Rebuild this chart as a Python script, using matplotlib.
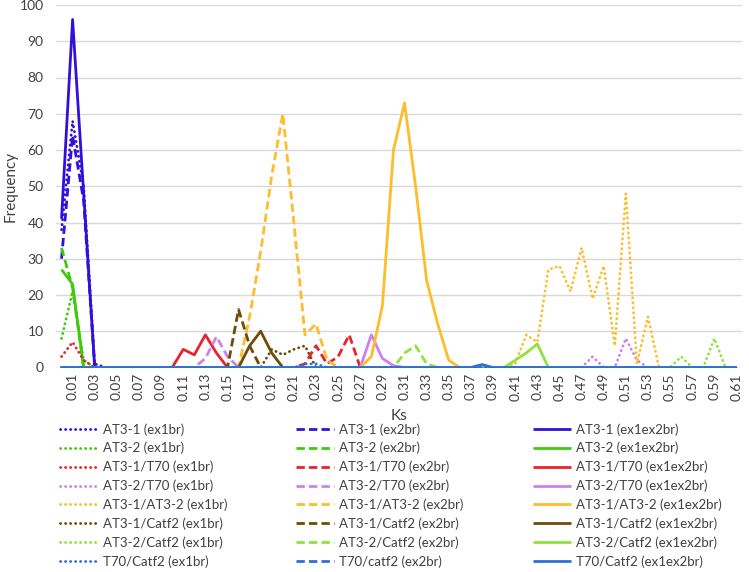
import numpy as np
import matplotlib
matplotlib.use("Agg")
import matplotlib.pyplot as plt
from matplotlib.lines import Line2D

plt.rcParams['font.family'] = ['Lato', 'DejaVu Sans']

# Ks categories 0.00 .. 0.61 (labels shown on every second one)
ks = [0.00, 0.01, 0.02, 0.03, 0.04, 0.05, 0.06, 0.07, 0.08, 0.09,
      0.10, 0.11, 0.12, 0.13, 0.14, 0.15, 0.16, 0.17, 0.18, 0.19,
      0.20, 0.21, 0.22, 0.23, 0.24, 0.25, 0.26, 0.27, 0.28, 0.29,
      0.30, 0.31, 0.32, 0.33, 0.34, 0.35, 0.36, 0.37, 0.38, 0.39,
      0.40, 0.41, 0.42, 0.43, 0.44, 0.45, 0.46, 0.47, 0.48, 0.49,
      0.50, 0.51, 0.52, 0.53, 0.54, 0.55, 0.56, 0.57, 0.58, 0.59,
      0.60, 0.61]

# each series: (first Ks with a reading, readings from there on); zero elsewhere
at31_ex1 = (0.00, [38, 68, 50, 1])
at31_ex2 = (0.00, [30, 64, 46, 0])
at31_ex12 = (0.00, [41, 96, 48, 0])

at32_ex1 = (0.00, [8, 21, 2])
at32_ex2 = (0.00, [33, 22, 0])
at32_ex12 = (0.00, [27, 23, 0])

at31_t70_ex1 = (0.00, [3, 7, 2])
at31_t70_ex2 = (0.21, [0, 1, 6, 1, 3, 9, 0])
at31_t70_ex12 = (0.10, [0, 5, 3.5, 9, 4, 0])

at32_t70_ex1 = (0.47, [0, 3, 0, 0, 8, 2, 0])
at32_t70_ex2 = (0.12, [0, 2.5, 8.5, 3, 0])
at32_t70_ex12 = (0.27, [0, 9, 2.5, 0.5, 0])

at31_at32_ex1 = (0.40, [0, 1, 9, 7, 27, 28, 21, 33, 19, 28, 6, 48, 1, 14, 0])
at31_at32_ex2 = (0.16, [0, 14, 32, 53, 70, 40, 9, 12, 2, 0])
at31_at32_ex12 = (0.27, [0, 3, 17, 60, 73, 50, 24, 12, 2, 0])

at31_catf2_ex1 = (0.18, [0, 5, 3.5, 5, 6, 0])
at31_catf2_ex2 = (0.15, [0, 16, 6, 0])
at31_catf2_ex12 = (0.16, [0, 6, 10, 4, 0])

at32_catf2_ex1 = (0.55, [0, 3, 0, 0, 8, 0])
at32_catf2_ex2 = (0.30, [0, 4, 6, 1, 0])
at32_catf2_ex12 = (0.40, [0, 2, 4, 6.5, 0])

t70_catf2_ex1 = (0.21, [0, 1, 1, 0])
t70_catf2_ex2 = (0.00, [0])
t70_catf2_ex12 = (0.37, [0, 0.8, 0])

groups = ['AT3-1', 'AT3-2', 'AT3-1/T70', 'AT3-2/T70', 'AT3-1/AT3-2',
          'AT3-1/Catf2', 'AT3-2/Catf2', 'T70/Catf2']
colors = ['#3210dc', '#3dcc0c', '#e8232b', '#d07ff0', '#fdbd2c',
          '#6e4c08', '#8ee43c', '#2f6fd6']
series = [
    (at31_ex1, at31_ex2, at31_ex12),
    (at32_ex1, at32_ex2, at32_ex12),
    (at31_t70_ex1, at31_t70_ex2, at31_t70_ex12),
    (at32_t70_ex1, at32_t70_ex2, at32_t70_ex12),
    (at31_at32_ex1, at31_at32_ex2, at31_at32_ex12),
    (at31_catf2_ex1, at31_catf2_ex2, at31_catf2_ex12),
    (at32_catf2_ex1, at32_catf2_ex2, at32_catf2_ex12),
    (t70_catf2_ex1, t70_catf2_ex2, t70_catf2_ex12),
]
labels = [
    ['AT3-1 (ex1br)', 'AT3-1 (ex2br)', 'AT3-1 (ex1ex2br)'],
    ['AT3-2 (ex1br)', 'AT3-2 (ex2br)', 'AT3-2 (ex1ex2br)'],
    ['AT3-1/T70 (ex1br)', 'AT3-1/T70 (ex2br)', 'AT3-1/T70 (ex1ex2br)'],
    ['AT3-2/T70 (ex1br)', 'AT3-2/T70 (ex2br)', 'AT3-2/T70 (ex1ex2br)'],
    ['AT3-1/AT3-2 (ex1br)', 'AT3-1/AT3-2 (ex2br)', 'AT3-1/AT3-2 (ex1ex2br)'],
    ['AT3-1/Catf2 (ex1br)', 'AT3-1/Catf2 (ex2br)', 'AT3-1/Catf2 (ex1ex2br)'],
    ['AT3-2/Catf2 (ex1br)', 'AT3-2/Catf2 (ex2br)', 'AT3-2/Catf2 (ex1ex2br)'],
    ['T70/Catf2 (ex1br)', 'T70/catf2 (ex2br)', 'T70/Catf2 (ex1ex2br)'],
]

LW = 2.0
styles = [
    dict(linestyle=(0, (0.1, 1.7)), dash_capstyle='round'),   # ex1br
    dict(linestyle=(0, (3.0, 1.5)), dash_capstyle='butt'),    # ex2br
    dict(linestyle='-', solid_capstyle='butt'),               # ex1ex2br
]


def expand(s):
    start, vals = s
    full = np.zeros(len(ks))
    i0 = ks.index(start)
    full[i0:i0 + len(vals)] = vals
    return full


fig = plt.figure(figsize=(7.49, 5.72), dpi=100)
ax = fig.add_axes([56 / 749, 1 - 367.5 / 572, (742 - 56) / 749, (367.5 - 5) / 572])

x = np.arange(len(ks))
handles = [[], [], []]
for g, (grp, col) in enumerate(zip(series, colors)):
    for j in range(3):
        ln, = ax.plot(x, expand(grp[j]), color=col, lw=LW, **styles[j])
        handles[j].append((Line2D([], [], color=col, lw=LW, **styles[j]), labels[g][j]))

ax.set_xlim(-0.5, len(ks) - 0.5)
ax.set_ylim(0, 100)
ax.set_yticks(range(0, 101, 10))
tick_idx = list(range(1, len(ks), 2))
ax.set_xticks(tick_idx)
ax.set_xticklabels([f"{ks[i]:.2f}" for i in tick_idx], rotation=90)
ax.tick_params(axis='both', length=0, labelsize=10, colors='#404040')
ax.tick_params(axis='y', pad=9)
ax.tick_params(axis='x', pad=4)
ax.grid(axis='y', color='#d9d9d9', lw=1)
ax.set_axisbelow(True)
for sp in ax.spines.values():
    sp.set_visible(False)

fig.text(399 / 749, 1 - 416 / 572, 'Ks', ha='center', va='center',
         fontsize=11, color='#404040')
fig.text(11 / 749, 1 - 186 / 572, 'Frequency', ha='center', va='center',
         rotation=90, fontsize=11, color='#404040')

col_x = [60, 296, 533]
for j in range(3):
    h, l = zip(*handles[j])
    fig.legend(h, l, loc='upper left', bbox_to_anchor=(col_x[j] / 749, 1 - 423 / 572),
               frameon=False, borderpad=0, borderaxespad=0, fontsize=9.5,
               handlelength=2.9, handletextpad=0.35, labelspacing=0.48,
               labelcolor='#404040')

fig.savefig('out.png', dpi=100)
